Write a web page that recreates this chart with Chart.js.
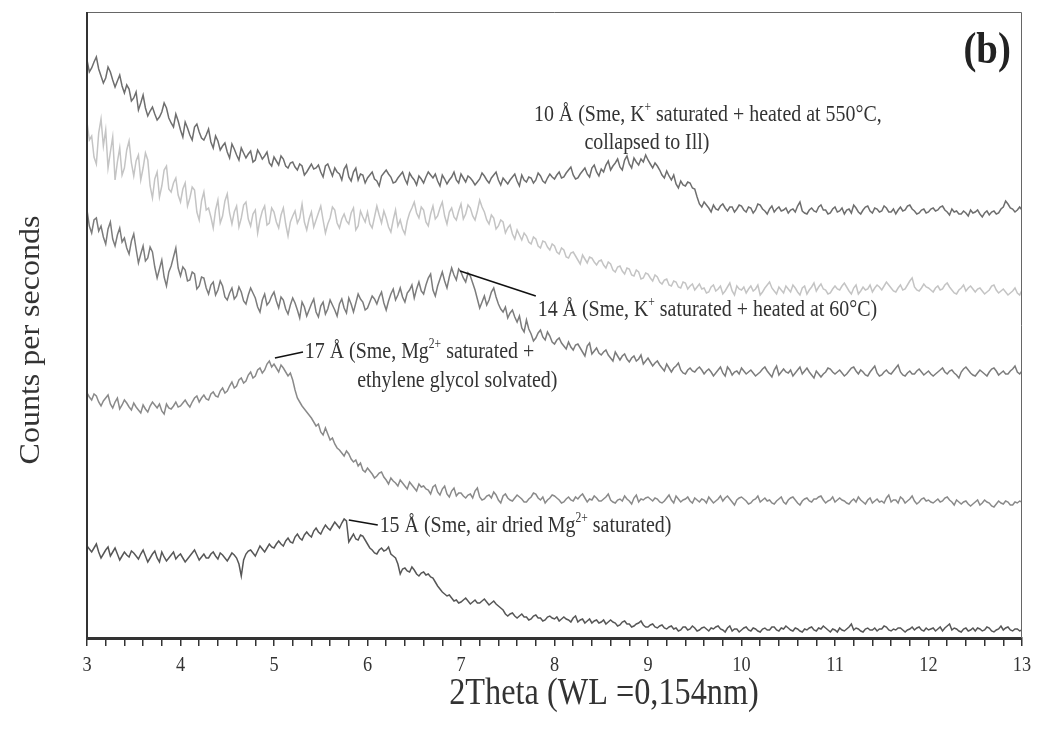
<!DOCTYPE html>
<html>
<head>
<meta charset="utf-8">
<script src="https://cdn.jsdelivr.net/npm/chart.js@4.4.1/dist/chart.umd.min.js"></script>
<style>
  html, body { margin: 0; padding: 0; background: #fff; }
  #wrap { width: 1038px; height: 736px; position: relative; }
</style>
</head>
<body>
<div id="wrap"><canvas id="xrd"></canvas></div>
<script>
// 2Theta grid: one reading every 0.025 degree from 3 to 13 (401 per trace)
const X_START = 3;
const X_STEP = 0.025;
const xTicks = [3, 4, 5, 6, 7, 8, 9, 10, 11, 12, 13];

// counts (arbitrary offset units), 20 readings per row = 0.5 degree
const sme10A = [
  578, 566, 570, 576, 581, 569, 562, 555, 560, 571, 566, 558, 551, 557, 563, 552, 545, 553, 549, 537,
  540, 546, 528, 535, 543, 530, 522, 527, 531, 524, 518, 521, 526, 535, 530, 520, 515, 511, 524, 517,
  508, 501, 516, 510, 503, 498, 511, 514, 506, 500, 498, 503, 509, 496, 490, 502, 497, 488, 492, 495,
  486, 480, 494, 489, 483, 478, 490, 485, 480, 484, 487, 476, 478, 488, 484, 479, 482, 486, 475, 472,
  481, 477, 473, 482, 479, 472, 470, 475, 476, 471, 468, 474, 472, 463, 466, 470, 474, 469, 470, 473,
  466, 461, 472, 474, 468, 462, 470, 466, 464, 458, 469, 473, 461, 457, 466, 470, 458, 464, 463, 455,
  460, 463, 466, 459, 457, 452, 462, 465, 468, 464, 461, 455, 456, 460, 463, 466, 459, 454, 465, 461,
  458, 453, 462, 459, 455, 461, 466, 463, 460, 464, 457, 452, 463, 459, 454, 458, 461, 466, 458, 455,
  464, 460, 456, 462, 460, 457, 453, 456, 459, 465, 462, 458, 455, 460, 463, 466, 458, 453, 460, 457,
  454, 458, 461, 464, 457, 452, 463, 458, 456, 461, 460, 455, 458, 465, 462, 457, 455, 460, 464, 461,
  459, 463, 466, 460, 461, 465, 468, 471, 463, 459, 460, 464, 467, 470, 464, 461, 470, 473, 466, 462,
  469, 466, 473, 477, 468, 472, 475, 479, 471, 468, 478, 482, 474, 470, 480, 476, 473, 479, 476, 483,
  478, 474, 470, 475, 472, 468, 463, 460, 467, 462, 458, 463, 454, 450, 457, 453, 452, 456, 455, 450,
  449, 441, 434, 431, 436, 433, 430, 426, 433, 429, 428, 432, 434, 430, 427, 431, 431, 426, 429, 433,
  432, 428, 426, 431, 430, 425, 428, 434, 433, 429, 427, 424, 429, 432, 426, 429, 431, 427, 428, 430,
  425, 428, 429, 426, 432, 436, 427, 425, 424, 428, 430, 427, 426, 431, 433, 428, 428, 424, 425, 429,
  431, 426, 427, 430, 424, 428, 429, 425, 433, 430, 426, 424, 428, 431, 432, 427, 425, 430, 429, 426,
  427, 432, 430, 426, 426, 429, 424, 428, 431, 427, 428, 432, 433, 429, 427, 424, 425, 428, 429, 425,
  426, 429, 430, 427, 428, 431, 432, 428, 426, 423, 429, 426, 427, 424, 424, 427, 425, 422, 428, 425,
  426, 428, 424, 421, 425, 427, 423, 426, 427, 424, 425, 429, 431, 437, 434, 430, 429, 426, 428, 431,
  428
];
const smeKroom = [
  516, 498, 502, 481, 474, 505, 519, 492, 508, 470, 486, 501, 458, 476, 490, 463, 470, 488, 497, 475,
  462, 477, 483, 458, 470, 485, 478, 452, 440, 459, 466, 441, 452, 468, 472, 449, 446, 455, 460, 443,
  436, 449, 455, 432, 440, 451, 448, 426, 418, 437, 446, 428, 430, 421, 410, 428, 438, 415, 422, 437,
  444, 425, 414, 426, 432, 411, 420, 433, 436, 419, 412, 424, 428, 405, 418, 427, 432, 413, 415, 430,
  426, 416, 410, 423, 430, 414, 402, 416, 422, 427, 415, 420, 434, 416, 408, 419, 426, 411, 418, 425,
  432, 418, 405, 414, 420, 431, 428, 415, 410, 419, 424, 417, 414, 425, 430, 408, 412, 427, 421, 416,
  426, 414, 410, 421, 432, 423, 415, 427, 420, 411, 406, 418, 428, 412, 418, 409, 404, 417, 425, 430,
  436, 425, 420, 431, 428, 416, 412, 424, 432, 419, 422, 430, 436, 422, 414, 426, 430, 421, 418, 427,
  434, 419, 424, 433, 430, 422, 418, 427, 438, 431, 426, 418, 414, 423, 420, 409, 412, 418, 416, 405,
  410, 413, 404, 399, 408, 403, 398, 405, 402, 396, 394, 401, 399, 392, 390, 397, 396, 391, 388, 394,
  392, 386, 384, 390, 388, 381, 380, 385, 386, 382, 378, 374, 383, 379, 375, 381, 380, 376, 373, 377,
  378, 373, 370, 376, 374, 368, 366, 371, 372, 367, 364, 370, 369, 363, 362, 368, 366, 359, 360, 365,
  364, 360, 357, 363, 361, 356, 354, 358, 359, 353, 352, 357, 356, 351, 350, 356, 355, 349, 352, 354,
  348, 351, 354, 349, 350, 345, 346, 351, 353, 347, 349, 352, 344, 347, 351, 355, 347, 343, 352, 349,
  348, 351, 345, 349, 352, 347, 349, 353, 343, 346, 350, 353, 356, 350, 347, 344, 351, 348, 345, 352,
  349, 346, 353, 350, 346, 343, 350, 352, 344, 348, 351, 355, 347, 351, 354, 349, 348, 344, 345, 349,
  352, 349, 348, 352, 355, 351, 347, 344, 350, 353, 344, 347, 351, 348, 349, 353, 346, 350, 353, 351,
  348, 352, 356, 353, 350, 347, 346, 350, 353, 348, 349, 353, 357, 360, 351, 348, 347, 350, 354, 351,
  350, 348, 346, 350, 352, 348, 349, 353, 355, 351, 348, 345, 344, 348, 350, 353, 347, 350, 352, 349,
  346, 349, 350, 347, 344, 346, 348, 352, 353, 348, 345, 347, 349, 346, 343, 345, 347, 350, 345, 343,
  348
];
const sme14A = [
  428, 412, 405, 418, 420, 407, 412, 401, 394, 409, 416, 399, 392, 403, 410, 396, 400, 390, 384, 397,
  404, 389, 375, 384, 392, 377, 380, 391, 386, 371, 360, 369, 378, 361, 352, 366, 372, 381, 390, 370,
  362, 371, 368, 357, 358, 366, 364, 349, 352, 361, 360, 350, 344, 353, 356, 343, 348, 357, 352, 341,
  338, 345, 350, 339, 342, 351, 346, 337, 334, 343, 350, 345, 340, 331, 326, 338, 344, 333, 336, 342,
  346, 337, 330, 341, 338, 329, 324, 333, 340, 335, 328, 320, 336, 331, 322, 328, 334, 339, 326, 321,
  332, 336, 324, 329, 338, 333, 328, 322, 334, 339, 330, 325, 340, 334, 326, 335, 344, 339, 336, 328,
  330, 336, 342, 339, 334, 341, 346, 335, 328, 337, 344, 349, 338, 343, 350, 341, 336, 345, 348, 353,
  340, 349, 356, 347, 344, 353, 360, 364, 348, 342, 352, 359, 366, 357, 350, 361, 370, 363, 358, 369,
  366, 360, 356, 365, 362, 355, 348, 339, 330, 336, 342, 333, 338, 346, 350, 341, 334, 329, 326, 331,
  320, 325, 328, 321, 316, 322, 310, 306, 318, 309, 304, 297, 300, 305, 308, 301, 298, 306, 302, 296,
  294, 298, 300, 295, 292, 289, 296, 291, 288, 293, 294, 290, 286, 282, 292, 295, 284, 287, 290, 285,
  283, 286, 288, 283, 280, 277, 286, 282, 278, 282, 284, 279, 276, 280, 282, 277, 279, 283, 274, 277,
  280, 276, 272, 275, 277, 273, 270, 267, 274, 270, 266, 270, 272, 275, 268, 265, 264, 268, 270, 267,
  266, 269, 271, 268, 264, 267, 269, 266, 262, 265, 268, 271, 265, 262, 271, 268, 263, 266, 267, 264,
  270, 267, 264, 266, 268, 265, 262, 264, 266, 269, 271, 267, 264, 261, 268, 272, 263, 266, 269, 266,
  265, 268, 262, 265, 268, 271, 264, 267, 270, 266, 263, 260, 267, 264, 261, 264, 266, 270, 269, 266,
  264, 266, 268, 265, 262, 264, 267, 270, 271, 267, 264, 268, 266, 263, 262, 266, 269, 272, 265, 262,
  263, 266, 268, 265, 264, 267, 270, 273, 266, 263, 262, 265, 267, 264, 264, 267, 269, 266, 263, 265,
  267, 264, 262, 264, 266, 268, 270, 266, 264, 267, 268, 265, 263, 260, 266, 269, 271, 268, 265, 263,
  262, 265, 268, 266, 264, 262, 266, 269, 270, 267, 263, 265, 267, 264, 264, 267, 269, 272, 266, 264,
  267
];
const sme17A = [
  245, 241, 238, 244, 242, 236, 232, 237, 240, 243, 234, 230, 236, 240, 229, 233, 238, 235, 231, 228,
  235, 231, 228, 225, 233, 229, 226, 232, 236, 233, 230, 234, 227, 224, 234, 230, 229, 232, 236, 231,
  232, 235, 238, 234, 231, 236, 240, 242, 236, 240, 243, 239, 238, 244, 246, 242, 241, 247, 250, 245,
  247, 252, 256, 250, 252, 258, 260, 255, 257, 263, 266, 260, 262, 268, 270, 265, 268, 274, 277, 271,
  274, 270, 266, 273, 270, 266, 262, 265, 258, 248, 240, 236, 232, 229, 226, 223, 220, 216, 212, 214,
  206, 203, 210, 204, 198, 200, 194, 190, 188, 185, 182, 187, 184, 179, 176, 178, 172, 175, 168, 166,
  170, 167, 164, 160, 162, 165, 166, 161, 158, 154, 160, 157, 155, 152, 158, 155, 152, 149, 156, 153,
  150, 147, 154, 151, 152, 149, 148, 144, 151, 153, 146, 143, 149, 152, 144, 141, 147, 150, 142, 145,
  145, 142, 140, 143, 144, 140, 147, 150, 141, 138, 139, 142, 143, 140, 146, 143, 138, 135, 142, 144,
  140, 138, 137, 140, 143, 141, 139, 136, 136, 139, 141, 145, 144, 140, 138, 141, 135, 138, 140, 143,
  142, 140, 138, 135, 136, 139, 141, 138, 137, 141, 139, 142, 144, 140, 136, 139, 138, 142, 140, 137,
  137, 139, 141, 144, 138, 136, 135, 138, 139, 137, 142, 139, 137, 134, 140, 143, 136, 139, 138, 140,
  141, 139, 137, 140, 139, 136, 135, 137, 140, 143, 138, 135, 142, 139, 136, 138, 139, 141, 137, 135,
  140, 138, 136, 139, 138, 135, 141, 138, 135, 137, 139, 142, 137, 140, 142, 139, 136, 133, 138, 140,
  141, 139, 137, 134, 135, 138, 139, 142, 136, 138, 140, 137, 138, 135, 134, 137, 139, 141, 136, 134,
  138, 140, 141, 138, 135, 133, 137, 139, 140, 137, 136, 139, 139, 141, 142, 138, 135, 137, 138, 141,
  136, 138, 140, 138, 137, 135, 134, 137, 139, 136, 141, 138, 136, 134, 138, 140, 135, 137, 139, 136,
  137, 135, 140, 143, 136, 138, 138, 135, 141, 139, 135, 137, 139, 142, 137, 134, 136, 139, 140, 137,
  138, 136, 135, 137, 139, 136, 137, 140, 141, 138, 136, 133, 138, 136, 134, 136, 137, 134, 132, 134,
  136, 138, 133, 135, 138, 136, 135, 132, 131, 134, 137, 135, 134, 137, 136, 133, 133, 136, 135, 137,
  136
];
const sme15A = [
  92, 89, 86, 90, 94, 86, 80, 84, 88, 91, 82, 86, 90, 84, 78, 82, 86, 83, 81, 87,
  85, 82, 79, 84, 88, 82, 76, 80, 84, 87, 80, 76, 86, 81, 77, 80, 83, 86, 79, 82,
  84, 80, 76, 79, 82, 85, 88, 83, 78, 81, 84, 80, 80, 84, 86, 82, 79, 85, 83, 80,
  77, 81, 85, 83, 80, 74, 62, 78, 84, 87, 88, 85, 82, 87, 92, 89, 86, 90, 94, 91,
  90, 94, 97, 94, 92, 97, 100, 96, 95, 101, 104, 100, 98, 103, 106, 103, 101, 107, 110, 106,
  104, 109, 113, 110, 108, 112, 116, 113, 110, 115, 119, 117, 96, 100, 104, 99, 98, 103, 102, 98,
  94, 90, 88, 85, 84, 88, 90, 87, 88, 91, 84, 82, 80, 74, 64, 69, 70, 67, 66, 71,
  68, 64, 62, 65, 66, 63, 64, 61, 60, 56, 52, 49, 46, 44, 42, 43, 40, 37, 38, 35,
  36, 38, 40, 37, 34, 36, 38, 35, 35, 37, 39, 36, 33, 35, 37, 34, 32, 30, 28, 24,
  22, 24, 25, 22, 20, 22, 24, 21, 21, 18, 19, 22, 23, 20, 20, 17, 18, 21, 22, 20,
  19, 21, 17, 19, 21, 19, 18, 16, 20, 22, 16, 18, 19, 15, 17, 19, 15, 17, 18, 15,
  16, 18, 14, 16, 18, 16, 15, 12, 13, 16, 17, 14, 14, 11, 12, 14, 15, 17, 13, 11,
  11, 13, 14, 11, 10, 12, 13, 10, 9, 11, 12, 9, 10, 7, 8, 11, 11, 8, 9, 12,
  10, 7, 8, 10, 11, 9, 7, 10, 9, 11, 12, 9, 8, 6, 10, 12, 7, 9, 9, 6,
  8, 10, 11, 8, 7, 10, 9, 7, 6, 9, 10, 8, 8, 11, 11, 8, 7, 10, 9, 12,
  10, 8, 7, 10, 9, 7, 6, 9, 8, 10, 11, 8, 7, 10, 9, 12, 10, 8, 6, 9,
  8, 6, 10, 8, 7, 9, 11, 14, 8, 10, 9, 7, 6, 9, 10, 8, 8, 10, 7, 9,
  9, 12, 11, 8, 7, 9, 8, 10, 10, 8, 6, 8, 9, 11, 8, 10, 11, 8, 7, 10,
  8, 9, 10, 7, 9, 11, 7, 10, 12, 14, 8, 10, 9, 7, 6, 9, 10, 7, 8, 10,
  7, 10, 9, 7, 8, 11, 10, 7, 6, 8, 9, 12, 8, 10, 11, 8, 7, 9, 9, 7,
  8
];

const serif = '"Liberation Serif", "Times New Roman", serif';
const textColor = "#333";
const squeeze = 0.83; // the source figure's lettering is narrow

// annotations, in data coordinates; second item marks a superscript
const notes = [
  { x: 7.78, y: 523, parts: [["10 Å (Sme, K"], ["+", 1], [" saturated + heated at 550°C,"]] },
  { x: 8.32, y: 495, parts: [["collapsed to Ill)"]] },
  { x: 7.82, y: 328, parts: [["14 Å (Sme, K"], ["+", 1], [" saturated + heated at 60°C)"]] },
  { x: 5.33, y: 286, parts: [["17 Å (Sme, Mg"], ["2+", 1], [" saturated +"]] },
  { x: 5.89, y: 257, parts: [["ethylene glycol solvated)"]] },
  { x: 6.13, y: 112, parts: [["15 Å (Sme, air dried Mg"], ["2+", 1], [" saturated)"]] },
];
const leaders = [
  [6.99, 367, 7.80, 342],
  [5.01, 280, 5.31, 286],
  [5.80, 118, 6.11, 113],
];

function toPoints(vals) {
  return vals.map((v, i) => ({ x: +(X_START + i * X_STEP).toFixed(3), y: v }));
}

function line(label, vals, color) {
  return { label, data: toPoints(vals), borderColor: color, borderWidth: 1.5, pointRadius: 0, tension: 0, fill: false };
}

// narrow text: x-scaled fillText, returns drawn width
function narrowText(ctx, text, x, y, sx) {
  ctx.save();
  ctx.translate(x, y);
  ctx.scale(sx, 1);
  ctx.fillText(text, 0, 0);
  ctx.restore();
  return ctx.measureText(text).width * sx;
}

const decor = {
  id: "decor",
  afterDraw(chart) {
    const { ctx, chartArea: a, scales } = chart;
    const xs = scales.x, ys = scales.y;
    ctx.save();

    // frame: thin top/right, heavier left axis
    ctx.strokeStyle = "#666";
    ctx.lineWidth = 1;
    ctx.beginPath();
    ctx.moveTo(a.left, a.top + 0.5);
    ctx.lineTo(a.right - 0.5, a.top + 0.5);
    ctx.lineTo(a.right - 0.5, a.bottom);
    ctx.stroke();
    ctx.strokeStyle = "#333";
    ctx.lineWidth = 2;
    ctx.beginPath();
    ctx.moveTo(a.left, a.top);
    ctx.lineTo(a.left, a.bottom);
    ctx.stroke();

    // leader lines
    ctx.strokeStyle = "#111";
    ctx.lineWidth = 1.5;
    leaders.forEach(([x1, y1, x2, y2]) => {
      ctx.beginPath();
      ctx.moveTo(xs.getPixelForValue(x1), ys.getPixelForValue(y1));
      ctx.lineTo(xs.getPixelForValue(x2), ys.getPixelForValue(y2));
      ctx.stroke();
    });

    // annotation text
    const size = 24;
    ctx.fillStyle = textColor;
    ctx.textBaseline = "middle";
    ctx.textAlign = "left";
    notes.forEach((n) => {
      let cx = xs.getPixelForValue(n.x);
      const cy = ys.getPixelForValue(n.y);
      n.parts.forEach(([t, sup]) => {
        ctx.font = (sup ? Math.round(size * 0.6) : size) + "px " + serif;
        cx += narrowText(ctx, t, cx, sup ? cy - size * 0.3 : cy, squeeze);
      });
    });

    // x tick labels
    ctx.font = "22px " + serif;
    ctx.textAlign = "center";
    xTicks.forEach((v) => narrowText(ctx, String(v), xs.getPixelForValue(v), 665, squeeze));

    // panel letter
    ctx.font = "bold 44px " + serif;
    ctx.textAlign = "right";
    ctx.fillStyle = "#222";
    narrowText(ctx, "(b)", xs.getPixelForValue(12.88), ys.getPixelForValue(586), 0.88);

    // axis titles
    ctx.fillStyle = textColor;
    ctx.font = "38px " + serif;
    ctx.textAlign = "center";
    narrowText(ctx, "2Theta (WL =0,154nm)", 604, 694, 0.85);
    ctx.font = "32px " + serif;
    ctx.translate(31, 340);
    ctx.scale(0.9, 1);
    ctx.rotate(-Math.PI / 2);
    ctx.fillText("Counts per seconds", 0, 0);
    ctx.restore();
  },
};

new Chart(document.getElementById("xrd").getContext("2d"), {
  type: "line",
  data: {
    datasets: [
      line("10 Å", sme10A, "#6e6e6e"),
      line("K-saturated", smeKroom, "#c4c4c4"),
      line("14 Å", sme14A, "#7c7c7c"),
      line("17 Å", sme17A, "#8a8a8a"),
      line("15 Å", sme15A, "#575757"),
    ],
  },
  options: {
    responsive: true,
    maintainAspectRatio: false,
    animation: false,
    layout: { padding: { left: 87, right: 16, top: 12, bottom: 0 } },
    plugins: { legend: { display: false }, tooltip: { enabled: false } },
    scales: {
      x: {
        type: "linear",
        min: 3,
        max: 13,
        afterFit: (s) => { s.height = 98; },
        border: { color: "#333", width: 3 },
        grid: { drawOnChartArea: false, drawTicks: true, tickLength: 8, color: "#333", lineWidth: 1.5 },
        ticks: { stepSize: 0.2, autoSkip: false, maxRotation: 0, callback: () => "" },
      },
      y: { display: false, min: 0, max: 626 },
    },
  },
  plugins: [decor],
});
</script>
</body>
</html>
